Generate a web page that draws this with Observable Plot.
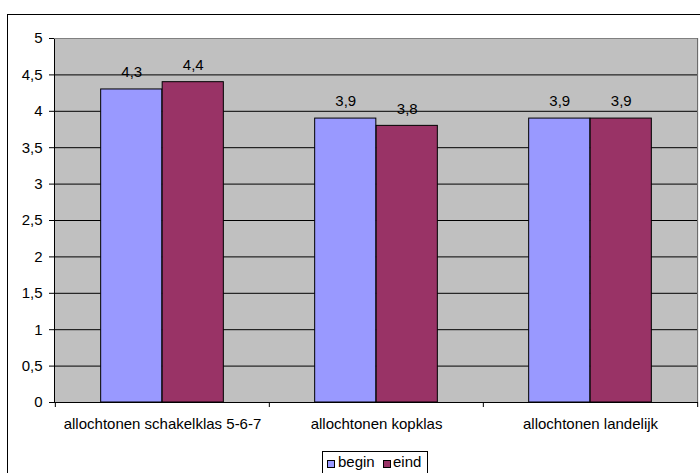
<!DOCTYPE html>
<html><head><meta charset="utf-8">
<script src="https://cdn.jsdelivr.net/npm/d3@7"></script>
<script src="https://cdn.jsdelivr.net/npm/@observablehq/plot@0.6"></script>
<style>
body{margin:0;background:#fff;}
#wrap{position:relative;width:700px;height:473px;overflow:hidden;font-family:"Liberation Sans",Arial,sans-serif;background:#fff;}
#chart{position:absolute;left:0;top:0;}
#border{position:absolute;left:7px;top:14px;width:800px;height:600px;border:1px solid #000;pointer-events:none;}
#legend{position:absolute;left:322px;top:451px;width:104px;height:30px;border:1px solid #000;background:#fff;font-size:15px;color:#000;}
#legend .sw{position:absolute;top:8px;width:8px;height:8px;box-sizing:border-box;border:1px solid #000;}
#legend .lb{position:absolute;top:1px;line-height:normal;white-space:nowrap;}
</style>
</head><body>
<div id="wrap">
  <div id="chart"></div>
  <div id="border"></div>
  <div id="legend"></div>
</div>
<script>
const categories = ["allochtonen schakelklas 5-6-7", "allochtonen kopklas", "allochtonen landelijk"];
const seriesNames = ["begin", "eind"];
const beginValues = [4.3, 3.9, 3.9];
const eindValues = [4.4, 3.8, 3.9];
const seriesColors = ["#9999ff", "#993366"];
const yTicks = [0, 0.5, 1, 1.5, 2, 2.5, 3, 3.5, 4, 4.5, 5];

const rows = [];
categories.forEach((c, i) => {
  rows.push({cat: c, series: "begin", value: beginValues[i]});
  rows.push({cat: c, series: "eind", value: eindValues[i]});
});

const fmt = d => String(d).replace(".", ",");
const W = 700, H = 450, ML = 54, MR = 3, MT = 38, MB = 48;
const band = (W - ML - MR) / categories.length;
const barW = 61.5;
const last = categories[categories.length - 1];

const barMark = (name, idx) => {
  const left = idx === 0;
  return Plot.barY(rows.filter(r => r.series === name), {
    x: "cat", y: "value", fill: seriesColors[idx], stroke: "#000", strokeWidth: 1,
    insetLeft: left ? band / 2 - barW : band / 2,
    insetRight: left ? band / 2 : band / 2 - barW
  });
};
const labelMark = (name, idx) => Plot.text(rows.filter(r => r.series === name), {
  x: "cat", y: "value", text: d => fmt(d.value), dx: (idx === 0 ? -1 : 1) * barW / 2, dy: -17,
  fill: "#000", fontSize: 15
});

const chart = Plot.plot({
  width: W, height: H, marginLeft: ML, marginRight: MR, marginTop: MT, marginBottom: MB,
  style: {fontFamily: '"Liberation Sans", Arial, sans-serif', fontSize: "15px", color: "#000", background: "transparent", overflow: "visible"},
  x: {domain: categories, padding: 0, axis: null, label: null},
  y: {domain: [0, 5], axis: null, label: null},
  marks: [
    Plot.frame({fill: "#c0c0c0", stroke: "#000"}),
    Plot.ruleY(yTicks.filter(t => t > 0 && t < 5), {stroke: "#000"}),
    Plot.ruleY([5], {stroke: "#808080"}),
    Plot.ruleX([last], {x: d => d, dx: band / 2, stroke: "#808080"}),
    barMark("begin", 0),
    barMark("eind", 1),
    Plot.axisY({ticks: yTicks, tickSize: 5, tickPadding: 7, tickFormat: fmt, stroke: "#000", label: null}),
    Plot.axisX({tickSize: 0, tickPadding: 16, fill: "#000", label: null}),
    Plot.ruleX(categories, {x: d => d, dx: -band / 2, y1: 0, y2: 0, insetBottom: -5, stroke: "#000"}),
    Plot.ruleX([last], {x: d => d, dx: band / 2, y1: 0, y2: 0, insetBottom: -5, stroke: "#000"}),
    labelMark("begin", 0),
    labelMark("eind", 1)
  ]
});
document.getElementById("chart").appendChild(chart);

// legend
const legend = document.getElementById("legend");
const swLeft = [4, 60], lbLeft = [15, 70];
seriesNames.forEach((s, i) => {
  const sw = document.createElement("div");
  sw.className = "sw"; sw.style.left = swLeft[i] + "px"; sw.style.background = seriesColors[i];
  const lb = document.createElement("div");
  lb.className = "lb"; lb.style.left = lbLeft[i] + "px"; lb.textContent = s;
  legend.appendChild(sw); legend.appendChild(lb);
});
</script>
</body></html>
